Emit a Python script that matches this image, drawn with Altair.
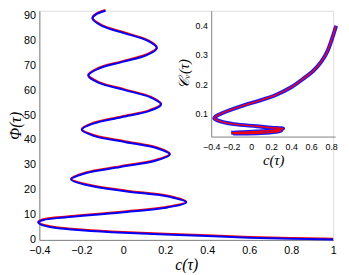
import altair as alt
import pandas as pd

# ---- main curve: c(tau) vs Phi(tau) ----
phi_vals = [0.2, 0.5, 0.9, 1.6, 2.2, 2.9, 3.9, 4.6, 5.2, 6.0, 7.0,
            8.0, 9.0, 11.0, 13.0, 15.0,
            17.3, 19.5, 21.9, 24.2,
            26.7, 29.2, 31.7, 34.2,
            36.7, 39.15, 41.6, 44.1,
            46.6, 49.15, 51.7, 54.2,
            57.1, 60.0, 62.9, 65.8,
            68.55, 71.3, 74.05, 76.8,
            79.8, 82.75, 85.7, 88.7,
            90.3, 91.8]
c_vals = [1.0, 0.8, 0.6, 0.4, 0.2, 0.0, -0.2, -0.3, -0.35, -0.39, -0.405,
          -0.38, -0.28, -0.01, 0.21, 0.300,
          0.22, 0.01, -0.169, -0.249,
          -0.180, -0.014, 0.153, 0.222,
          0.161, 0.012, -0.137, -0.198,
          -0.143, -0.009, 0.125, 0.180,
          0.129, 0.007, -0.116, -0.167,
          -0.119, -0.004, 0.112, 0.160,
          0.115, 0.007, -0.102, -0.147,
          -0.13, -0.085]

# ---- inset: C_v(tau) vs c(tau) ----
ins_c = [0.85, 0.81, 0.76, 0.70, 0.62, 0.53, 0.40, 0.24, 0.075, -0.09, -0.25,
         -0.32, -0.36, -0.37, -0.336, -0.173, 0.056, 0.20, 0.32,
         0.27, 0.10, -0.10, -0.20, -0.15, 0.05, 0.22, 0.30, 0.25, 0.10, -0.10, -0.18]
ins_cv = [0.398, 0.355, 0.31, 0.276, 0.245, 0.221, 0.19, 0.163, 0.144, 0.127, 0.108,
          0.098, 0.090, 0.085, 0.078, 0.065, 0.058, 0.053, 0.050,
          0.046, 0.041, 0.038, 0.036, 0.037, 0.040, 0.043, 0.042, 0.039, 0.035, 0.033, 0.033]

main_ticks_x = [-0.4, -0.2, 0, 0.2, 0.4, 0.6, 0.8, 1]
main_ticks_y = [0, 10, 20, 30, 40, 50, 60, 70, 80, 90]
ins_ticks_x = [-0.4, -0.2, 0, 0.2, 0.4, 0.6, 0.8]
ins_ticks_y = [0.1, 0.2, 0.3, 0.4]

main_df = pd.DataFrame({"c": c_vals, "phi": phi_vals, "k": list(range(len(c_vals)))})
ins_df = pd.DataFrame({"ci": ins_c, "cv": ins_cv, "k": list(range(len(ins_c)))})

ax_common = dict(labelOverlap=False, labelFlush=False, ticks=False, grid=False,
                 domainColor="#808080", labelColor="black", titleColor="black",
                 labelFont="Liberation Sans", titleFont="Liberation Serif",
                 titleFontStyle="italic", titleFontWeight="normal")

mx = alt.X("c:Q", scale=alt.Scale(domain=[-0.4, 1.0], nice=False, zero=False),
           axis=alt.Axis(values=main_ticks_x, format="~g", title="c(τ)", orient="bottom",
                         labelFontSize=11, titleFontSize=16, labelPadding=5, titlePadding=1,
                         **ax_common))
my = alt.Y("phi:Q", scale=alt.Scale(domain=[0, 91.8], nice=False, zero=False),
           axis=alt.Axis(values=main_ticks_y, format="d", title="Φ(τ)", orient="left",
                         labelFontSize=11, titleFontSize=16, labelPadding=4, titlePadding=0,
                         **ax_common))

base_main = alt.Chart(main_df)
main_red = base_main.mark_line(color="#ff0000", strokeWidth=2, interpolate="catmull-rom",
                               yOffset=-0.8).encode(x=mx, y=my, order="k:Q")
main_blue = base_main.mark_line(color="#0000ff", strokeWidth=2, interpolate="catmull-rom"
                                ).encode(x=mx, y=my, order="k:Q")
main = alt.layer(main_red, main_blue)

ix = alt.X("ci:Q", scale=alt.Scale(domain=[-0.4, 0.84], range=[175.5, 302], nice=False, zero=False),
           axis=alt.Axis(values=ins_ticks_x, format="~g", title="c(τ)", orient="bottom",
                         offset=-105.5, labelFontSize=9, titleFontSize=15, labelPadding=6,
                         titlePadding=2, **ax_common))
iy = alt.Y("cv:Q", scale=alt.Scale(domain=[0.023, 0.449], range=[128.5, 0], nice=False, zero=False),
           axis=alt.Axis(values=ins_ticks_y, format="~g", title="𝒞ᵥ(τ)", orient="left",
                         offset=-175.5, labelFontSize=9, titleFontSize=15, labelPadding=4,
                         titlePadding=4, **ax_common))

base_ins = alt.Chart(ins_df)
ins_blue = base_ins.mark_line(color="#0000ff", strokeWidth=4, interpolate="catmull-rom",
                              opacity=0.9).encode(x=ix, y=iy, order="k:Q")
ins_red = base_ins.mark_line(color="#ff0000", strokeWidth=1.4, interpolate="catmull-rom"
                             ).encode(x=ix, y=iy, order="k:Q")
inset = alt.layer(ins_blue, ins_red)

chart = alt.layer(main, inset).resolve_scale(x="independent", y="independent").resolve_axis(
    x="independent", y="independent"
).properties(
    width=300, height=234,
    autosize=alt.AutoSizeParams(type="none"),
    padding={"left": 32, "top": 0, "right": 8, "bottom": 31},
).configure_view(stroke=None).configure(background="white")

chart.save("out.html", embed_options={"renderer": "svg", "actions": False})
